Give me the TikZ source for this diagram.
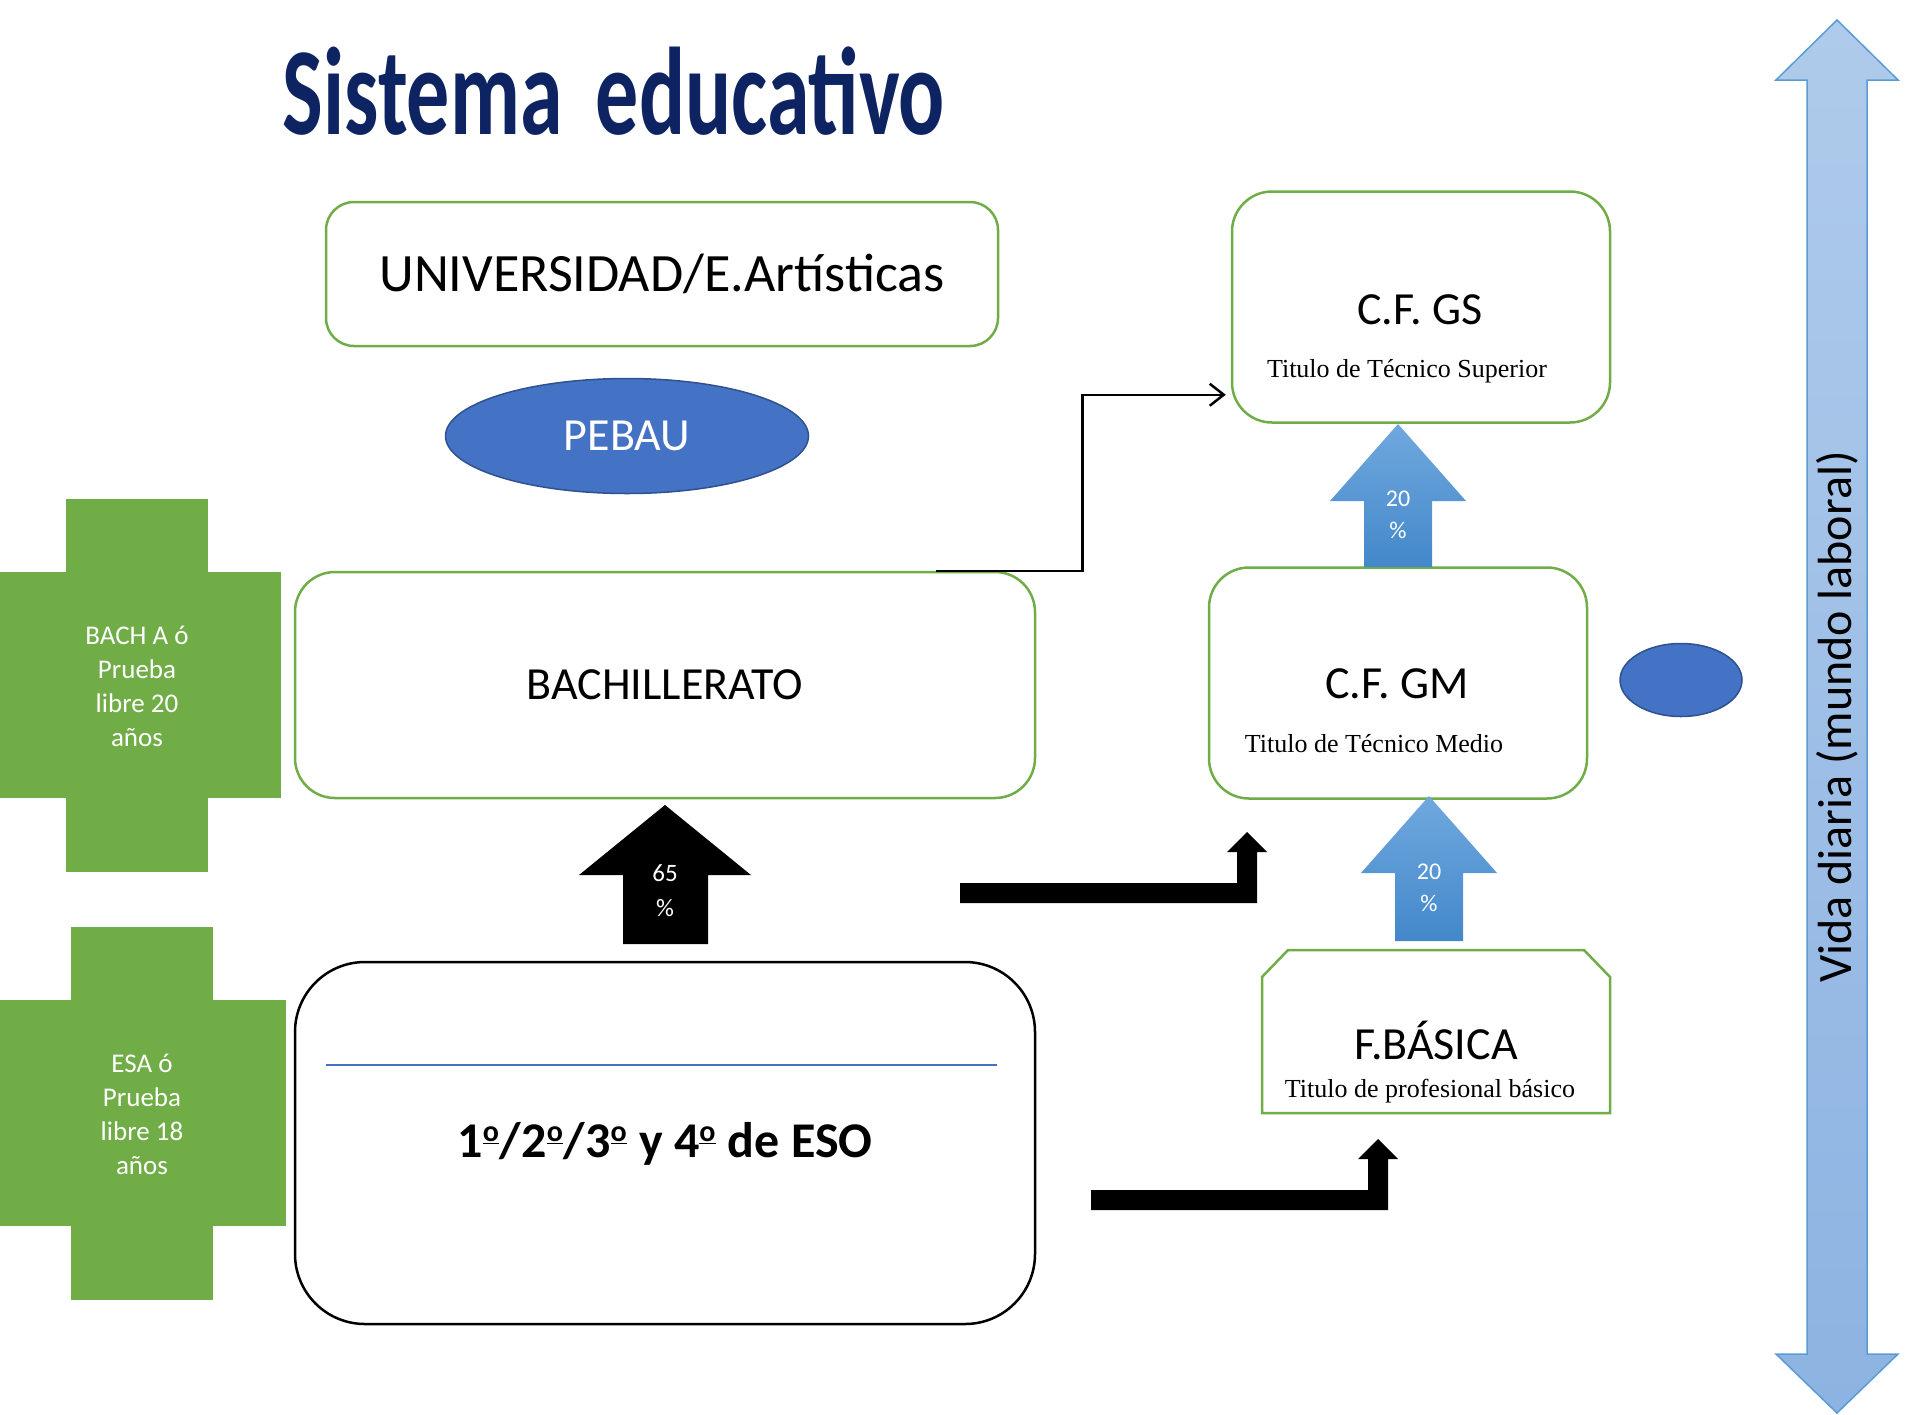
\documentclass[tikz,border=0pt]{standalone}
\usepackage{fontspec}
\usepackage{graphicx}
\setmainfont{Carlito}
\newfontfamily\subfont{Liberation Serif}
\usetikzlibrary{shapes.geometric,arrows.meta}

\definecolor{boxgreen}{HTML}{70AD47}
\definecolor{pebaublue}{HTML}{4472C4}
\definecolor{pebauedge}{HTML}{2F528F}
\definecolor{titlenavy}{HTML}{0E2462}
\definecolor{lineblue}{HTML}{5B9BD5}
\definecolor{arrowtop}{HTML}{70A8DE}
\definecolor{arrowbot}{HTML}{4388CA}
\definecolor{vidatop}{HTML}{AFCBEB}
\definecolor{vidabot}{HTML}{8DB3E2}

\newcommand\ordo{\raisebox{16pt}{\fontsize{30}{32}\selectfont\underline{o}}\kern1pt}

\tikzset{
  gbox/.style={draw=boxgreen, line width=2.5pt, fill=white},
  headtxt/.style={font=\fontsize{46}{50}\selectfont},
  subtxt/.style={font=\subfont\fontsize{26}{30}\selectfont},
  crosstxt/.style={text=white, align=center, font=\fontsize{27}{34}\selectfont},
  pct/.style={text=white, align=center, font=\fontsize{24}{32}\selectfont},
  conn/.style={black, line width=2.5pt, -{Straight Barb[length=14pt,width=22pt]}}
}

\begin{document}
\begin{tikzpicture}[x=1pt,y=-1pt]
\useasboundingbox (0,0) rectangle (1905,1414);

% title
\node[text=titlenavy] (title) at (614,91) {\fontsize{86}{90}\selectfont\bfseries\scalebox{1}[1.45]{Sistema\hspace{14pt} educativo}};

% green crosses
\foreach \dx/\dy/\lab [count=\i] in {0/0/{BACH A ó\\Prueba\\libre 20\\años}, 5/428/{ESA ó\\Prueba\\libre 18\\años}}
{
  \fill[boxgreen] (66+\dx,499+\dy) rectangle (208+\dx,872+\dy);
  \fill[boxgreen] (0,572+\dy) rectangle (281+\dx,798+\dy);
  \node[crosstxt] (cross\i) at (137+\dx,686+\dy) {\lab};
}

\node[gbox, rounded corners=28pt, minimum width=672pt, minimum height=144pt] (univ) at (662,274) {\fontsize{54}{60}\selectfont UNIVERSIDAD/E.Artísticas};

\node[ellipse, draw=pebauedge, line width=1.5pt, fill=pebaublue, text=white, headtxt, minimum width=363pt, minimum height=115pt] (pebau) at (627,436) {PEBAU};

\node[gbox, rounded corners=40pt, minimum width=740pt, minimum height=226pt, headtxt] (bach) at (665,685) {BACHILLERATO};

\node[draw=black, line width=2.5pt, rounded corners=70pt, minimum width=740pt, minimum height=362pt] (eso) at (665,1143) {};
\draw[pebaublue, line width=1.5pt] (326,1065) -- (997,1065);
\node[font=\fontsize{50}{54}\selectfont\bfseries] (esotxt) at (665,1144) {1\ordo/2\ordo/3\ordo{} y 4\ordo{} de ESO};

% ciclos
\node[gbox, rounded corners=40pt, minimum width=378pt, minimum height=231pt] (cfgs) at (1421,307) {};
\node[headtxt] (cfgstit) at (1420,310) {C.F. GS};
\node[subtxt] (cfgssub) at (1407,371) {Titulo de Técnico Superior};

\node[gbox, rounded corners=40pt, minimum width=378pt, minimum height=231pt] (cfgm) at (1398,683) {};
\node[headtxt] (cfgmtit) at (1397,684) {C.F. GM};
\node[subtxt] (cfgmsub) at (1374,744) {Titulo de Técnico Medio};

\draw[gbox] (1262,977) -- (1288,950) -- (1584,950) -- (1610,977) -- (1610,1113) -- (1262,1113) -- cycle;
\coordinate (fbas) at (1436,1031);
\node[headtxt] (fbastit) at ([yshift=-9pt]fbas) {F.BÁSICA};
\node[subtxt] (fbassub) at (1430,1091) {Titulo de profesional básico};

\node[ellipse, draw=pebauedge, line width=1.5pt, fill=pebaublue, minimum width=122pt, minimum height=73pt] (dot) at (1681,680) {};

% block arrows
\fill[black] (665,805) -- (751,875) -- (708,875) -- (708,944) -- (623,944) -- (623,875) -- (579,875) -- cycle;
\node[pct, font=\fontsize{25}{35}\selectfont] (p65) at (665,891) {65\\\%};

\foreach \cx/\tip/\base/\bot/\ty [count=\i] in {1398/424/501/567/515, 1429/796/873/941/888}
{
  \shade[top color=arrowtop, bottom color=arrowbot] (\cx,\tip) -- (\cx+68,\base) -- (\cx+34,\base) -- (\cx+34,\bot) -- (\cx-34,\bot) -- (\cx-34,\base) -- (\cx-68,\base) -- cycle;
  \node[pct] (p20\i) at (\cx,\ty) {20\\\%};
}

\foreach \dx/\dy in {0/0, 131/307}
  \fill[black, shift={(\dx,\dy)}] (960,883) -- (1237,883) -- (1237,852) -- (1227,852) -- (1247,832) -- (1267,852) -- (1257,852) -- (1257,903) -- (960,903) -- cycle;

\draw[conn, shorten >=5pt] ([xshift=-100pt]bach.north east) -- ++(146,0) |- ([yshift=29pt]cfgs.south west);

% vida laboral
\shadedraw[top color=vidatop, bottom color=vidabot, draw=lineblue, line width=1.5pt] (1837,20) -- (1898,80) -- (1867,80) -- (1867,1354) -- (1898,1354) -- (1837,1413) -- (1776,1354) -- (1807,1354) -- (1807,80) -- (1776,80) -- cycle;
\node[rotate=90, font=\fontsize{48}{52}\selectfont] (vida) at (1837,717) {Vida diaria (mundo laboral)};

\end{tikzpicture}
\end{document}
